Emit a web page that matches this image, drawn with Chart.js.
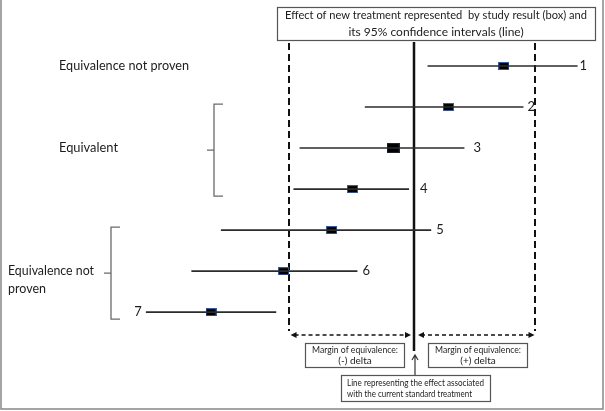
<!DOCTYPE html>
<html>
<head>
<meta charset="utf-8">
<script src="https://cdn.jsdelivr.net/npm/chart.js@4"></script>
<style>
  body { margin: 0; background: #fff; }
  #wrap { width: 605px; height: 411px; }
</style>
</head>
<body>
<div id="wrap"><canvas id="forest" width="605" height="411"></canvas></div>
<script>
// study data (x in units of delta, 0 = current standard treatment)
const studies = ['1', '2', '3', '4', '5', '6', '7'];
const estimates = [0.73, 0.28, -0.17, -0.50, -0.67, -1.06, -1.65];
const lowerCI = [0.11, -0.40, -0.93, -0.98, -1.57, -1.81, -2.18];
const upperCI = [1.33, 0.89, 0.41, -0.04, 0.14, -0.46, -1.12];
const nullEffect = 0;
const marginLow = -1.02;
const marginHigh = 0.98;

const groupLabels = [['Equivalence not proven'], ['Equivalent'], ['Equivalence not', 'proven']];
const groupRows = [[1, 1], [2, 4], [5, 7]];

const titleLines = ['Effect of new treatment represented  by study result (box) and', 'its 95% confidence intervals (line)'];
const marginLowText = ['Margin of equivalence:', '(-) delta'];
const marginHighText = ['Margin of equivalence:', '(+) delta'];
const standardText = ['Line representing the effect associated', 'with the current standard treatment'];

const FONT = 'Lato, "Open Sans", sans-serif';
const INK = '#1c1c1c';

// square markers for the study results
function makeBox(w, h, border) {
    const c = document.createElement('canvas');
    c.width = w; c.height = h;
    const g = c.getContext('2d');
    g.fillStyle = border;
    g.fillRect(0, 0, w, h);
    g.fillStyle = '#000';
    g.fillRect(1, 1, w - 2, h - 2);
    return c;
}
const smallBox = makeBox(11, 8, '#3a5a9a');
const bigBox = makeBox(13, 10, '#22263a');

function text(ctx, str, x, y, size, align, maxW) {
    ctx.font = size + 'px ' + FONT;
    ctx.fillStyle = INK;
    ctx.textAlign = align || 'left';
    ctx.textBaseline = 'middle';
    if (maxW) ctx.fillText(str, x, y, maxW); else ctx.fillText(str, x, y);
}

function box(ctx, x1, y1, x2, y2) {
    ctx.strokeStyle = '#555';
    ctx.lineWidth = 1.2;
    ctx.strokeRect(x1 + 0.5, y1 + 0.5, x2 - x1, y2 - y1);
}

function arrowHead(ctx, x, y, dir) {
    ctx.beginPath();
    ctx.moveTo(x, y);
    ctx.lineTo(x - dir * 6, y - 3);
    ctx.lineTo(x - dir * 6, y + 3);
    ctx.closePath();
    ctx.fill();
}

const referenceLines = {
    id: 'referenceLines',
    beforeDatasetsDraw(chart) {
        const ctx = chart.ctx;
        const xs = chart.scales.x;
        ctx.save();
        // equivalence margins
        ctx.strokeStyle = '#111';
        ctx.lineWidth = 2;
        ctx.setLineDash([7, 4]);
        [marginLow, marginHigh].forEach(v => {
            const px = Math.round(xs.getPixelForValue(v));
            ctx.beginPath();
            ctx.moveTo(px, 43);
            ctx.lineTo(px, 331);
            ctx.stroke();
        });
        ctx.setLineDash([]);
        // line of no difference
        const c = Math.round(xs.getPixelForValue(nullEffect));
        ctx.lineWidth = 2.5;
        ctx.beginPath();
        ctx.moveTo(c, 42);
        ctx.lineTo(c, 351);
        ctx.stroke();
        ctx.restore();
    },
    afterDraw(chart) {
        const ctx = chart.ctx;
        const xs = chart.scales.x;
        const ys = chart.scales.y;
        ctx.save();

        // outer frame
        ctx.strokeStyle = '#888';
        ctx.lineWidth = 1.5;
        ctx.beginPath();
        ctx.moveTo(1, 0); ctx.lineTo(1, 409); ctx.lineTo(603, 409); ctx.lineTo(603, 0);
        ctx.stroke();

        // title box
        box(ctx, 277, 7, 595, 40);
        titleLines.forEach((t, i) => text(ctx, t, 436, 15 + i * 17, 12, 'center', i === 0 ? 302 : 186));

        // study numbers
        const gaps = [2, 4, 9, 11, 5, 5, 4];
        studies.forEach((s, i) => {
            const py = ys.getPixelForValue(i + 1);
            if (i === studies.length - 1) {
                text(ctx, s, xs.getPixelForValue(lowerCI[i]) - gaps[i], py, 13, 'right');
            } else {
                text(ctx, s, xs.getPixelForValue(upperCI[i]) + gaps[i], py, 13, 'left');
            }
        });

        // group labels and brackets
        const textX = [59, 59, 8];
        const bracketX = [null, 214, 111];
        const widths = { 'Equivalence not proven': 130, 'Equivalent': 59, 'Equivalence not': 86, 'proven': 38 };
        groupLabels.forEach((lines, g) => {
            const r0 = groupRows[g][0], r1 = groupRows[g][1];
            const top = ys.getPixelForValue(r0), bot = ys.getPixelForValue(r1);
            const mid = (top + bot) / 2;
            lines.forEach((t, k) => text(ctx, t, textX[g], mid + k * 18, 13, 'left', widths[t]));
            if (bracketX[g] !== null) {
                const bx = bracketX[g];
                ctx.strokeStyle = '#6a6a6a';
                ctx.lineWidth = 1.3;
                ctx.beginPath();
                ctx.moveTo(bx + 9, top - 3);
                ctx.lineTo(bx, top - 3);
                ctx.lineTo(bx, bot + 7);
                ctx.lineTo(bx + 9, bot + 7);
                ctx.moveTo(bx - 7, mid + 2);
                ctx.lineTo(bx, mid + 2);
                ctx.stroke();
            }
        });

        // margin arrows
        const mL = xs.getPixelForValue(marginLow);
        const mH = xs.getPixelForValue(marginHigh);
        const c = xs.getPixelForValue(nullEffect);
        const ay = 335;
        ctx.strokeStyle = '#111';
        ctx.fillStyle = '#111';
        ctx.lineWidth = 1.5;
        ctx.setLineDash([4, 3]);
        ctx.beginPath();
        ctx.moveTo(mL + 6, ay); ctx.lineTo(c - 6, ay);
        ctx.moveTo(c + 7, ay); ctx.lineTo(mH - 4, ay);
        ctx.stroke();
        ctx.setLineDash([]);
        arrowHead(ctx, mL + 2, ay, -1);
        arrowHead(ctx, c - 3, ay, 1);
        arrowHead(ctx, c + 4, ay, -1);
        arrowHead(ctx, mH, ay, 1);

        // margin boxes
        box(ctx, 305, 343, 404, 367);
        marginLowText.forEach((t, i) => text(ctx, t, 355, 350 + i * 11, 10, 'center', i === 0 ? 86 : 40));
        box(ctx, 428, 343, 527, 367);
        marginHighText.forEach((t, i) => text(ctx, t, 478, 350 + i * 11, 10, 'center', i === 0 ? 86 : 40));

        // pointer to the standard-treatment line
        ctx.strokeStyle = '#333';
        ctx.lineWidth = 1.2;
        ctx.beginPath();
        ctx.moveTo(c + 1, 375); ctx.lineTo(c + 1, 356);
        ctx.moveTo(c - 2, 360); ctx.lineTo(c + 1, 355); ctx.lineTo(c + 4, 360);
        ctx.stroke();
        box(ctx, 341, 375, 490, 401);
        standardText.forEach((t, i) => text(ctx, t, 347, 383 + i * 11, 10, 'left', i === 0 ? 137 : 125));

        ctx.restore();
    }
};

const ciDatasets = studies.map((s, i) => ({
    label: 'Study ' + s,
    data: [{ x: lowerCI[i], y: i + 1 }, { x: upperCI[i], y: i + 1 }],
    showLine: true,
    borderColor: '#2b2b2b',
    borderWidth: 1.6,
    pointRadius: 0
}));

const pointDataset = {
    label: 'Study result',
    data: estimates.map((v, i) => ({ x: v, y: i + 1 })),
    pointStyle: studies.map((s, i) => i === 2 ? bigBox : smallBox),
    pointRadius: 6,
    showLine: false
};

new Chart(document.getElementById('forest'), {
    type: 'scatter',
    data: { datasets: [...ciDatasets, pointDataset] },
    options: {
        responsive: false,
        animation: false,
        devicePixelRatio: 1,
        layout: { padding: 0, autoPadding: false },
        plugins: { legend: { display: false }, tooltip: { enabled: false } },
        scales: {
            x: { type: 'linear', min: -3.366, max: 1.553, display: false },
            y: { type: 'linear', min: -0.61, max: 9.41, reverse: true, display: false }
        }
    },
    plugins: [referenceLines]
});
</script>
</body>
</html>
